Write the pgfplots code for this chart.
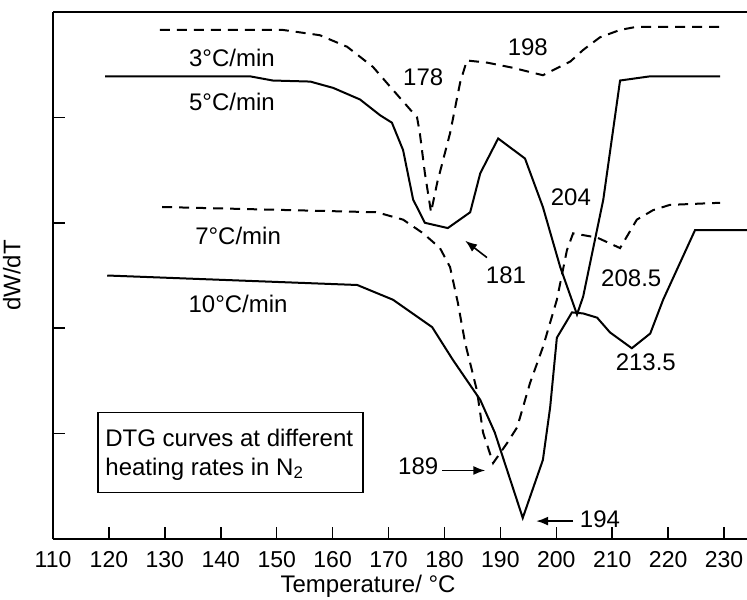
\documentclass[border=0pt]{standalone}
\usepackage{fontspec}
\setmainfont{Liberation Sans}
\usepackage{pgfplots}
\pgfplotsset{compat=1.18}
\usetikzlibrary{arrows.meta}
\begin{document}
\fontsize{12bp}{14bp}\selectfont
\begin{tikzpicture}
\useasboundingbox (-26.5bp,-30.5bp) rectangle (347bp,269.5bp);
\begin{axis}[
  scale only axis, width=347bp, height=263.5bp,
  xmin=110, xmax=234.1, ymin=0, ymax=5,
  axis x line=box, axis y line=left,
  axis line style={-, line width=1bp},
  every outer x axis line/.append style={-},
  every outer y axis line/.append style={-},
  xtick={110,120,...,230}, ytick={1,2,3,4}, yticklabels={},
  xtick pos=left, ytick pos=left,
  tick align=inside,
  major tick length=6bp,
  tick style={line width=0.8bp, black},
  /pgf/number format/assume math mode=true,
  xticklabel style={font=\fontsize{11.5bp}{13bp}\selectfont, inner sep=0pt, yshift=-6bp},
  xlabel={Temperature/ °C},
  xlabel style={at={(rel axis cs:0.454,0)}, anchor=north, inner sep=0pt, yshift=-18bp},
  ylabel={dW/dT},
  ylabel style={at={(rel axis cs:0,0.5)}, anchor=south, inner sep=0pt, yshift=16bp},
]
% 3 C/min
\addplot[black, line width=1bp, dash pattern=on 5bp off 3.5bp] coordinates {
(129.1,4.83) (151.1,4.83) (157.7,4.78) (162.6,4.67) (167.2,4.48) (170.8,4.26)
(175.1,4.00) (175.6,3.85) (176.5,3.47) (177.6,3.10) (178.7,3.38) (181.0,3.85)
(182.8,4.33) (184.0,4.54) (187.6,4.52) (192.3,4.47) (197.6,4.40) (202.5,4.53)
(204.8,4.64) (207.8,4.76) (211.4,4.83) (214.4,4.86) (229.3,4.86)};
% 5 C/min
\addplot[black, line width=1bp] coordinates {
(119.3,4.39) (145.2,4.39) (149.3,4.35) (156.0,4.34) (160.1,4.28) (164.9,4.17)
(168.5,4.02) (170.6,3.95) (172.6,3.69) (174.4,3.22) (176.5,3.00) (180.6,2.95)
(184.6,3.10) (186.4,3.47) (189.6,3.80) (194.4,3.61) (197.6,3.15) (200.7,2.58)
(203.7,2.13) (204.8,2.30) (208.4,3.22) (211.4,4.35) (216.8,4.39) (229.3,4.39)};
% 7 C/min
\addplot[black, line width=1bp, dash pattern=on 5bp off 3.5bp] coordinates {
(129.5,3.15) (167.9,3.10) (172.6,3.03) (176.2,2.90) (179.2,2.76) (181.0,2.58)
(182.4,2.24) (183.7,1.86) (185.8,1.41) (186.9,1.01) (188.7,0.72) (191.2,0.91)
(193.0,1.06) (195.3,1.48) (197.6,1.82) (200.1,2.27) (201.9,2.74) (203.0,2.90)
(207.3,2.86) (211.4,2.76) (214.4,3.03) (217.3,3.12) (220.3,3.17) (229.3,3.19)};
% 10 C/min
\addplot[black, line width=1bp] coordinates {
(119.7,2.50) (164.4,2.41) (170.8,2.27) (177.8,2.01) (181.5,1.70) (186.4,1.32)
(189.0,1.01) (194.0,0.20) (197.6,0.75) (198.9,1.25) (200.1,1.91) (202.8,2.15)
(204.8,2.14) (207.3,2.10) (209.6,1.96) (213.5,1.81) (216.8,1.95) (219.1,2.27)
(224.8,2.93) (234.1,2.93)};
% top line
\draw[line width=1bp] (rel axis cs:0,1) -- (rel axis cs:1,1);
% labels
\node at (axis cs:142.0,4.56) {3°C/min};
\node at (axis cs:142.0,4.15) {5°C/min};
\node at (axis cs:143.1,2.88) {7°C/min};
\node at (axis cs:143.1,2.23) {10°C/min};
\node at (axis cs:176.2,4.38) {178};
\node at (axis cs:194.9,4.67) {198};
\node at (axis cs:202.6,3.24) {204};
\node at (axis cs:191.0,2.50) {181};
\node at (axis cs:213.4,2.47) {208.5};
\node at (axis cs:216.0,1.68) {213.5};
\node at (axis cs:175.3,0.69) {189};
\node at (axis cs:207.8,0.19) {194};
\draw[-{Latex[length=6bp,width=4.5bp]}, line width=0.8bp] (axis cs:187.6,2.67) -- (axis cs:183.7,2.83);
\draw[-{Latex[length=6bp,width=4.5bp]}, line width=0.8bp] (axis cs:179.6,0.65) -- (axis cs:187.3,0.65);
\draw[-{Latex[length=6bp,width=4.5bp]}, line width=0.8bp] (axis cs:203.0,0.17) -- (axis cs:196.4,0.17);
% box
\draw[line width=0.8bp] (axis cs:118.0,0.44) rectangle (axis cs:165.4,1.20);
\node[anchor=base west, inner sep=0pt] at (axis cs:119.3,0.873) {DTG curves at different};
\node[anchor=base west, inner sep=0pt] at (axis cs:119.3,0.607) {heating rates in N\textsubscript{2}};
\end{axis}
\end{tikzpicture}
\end{document}
